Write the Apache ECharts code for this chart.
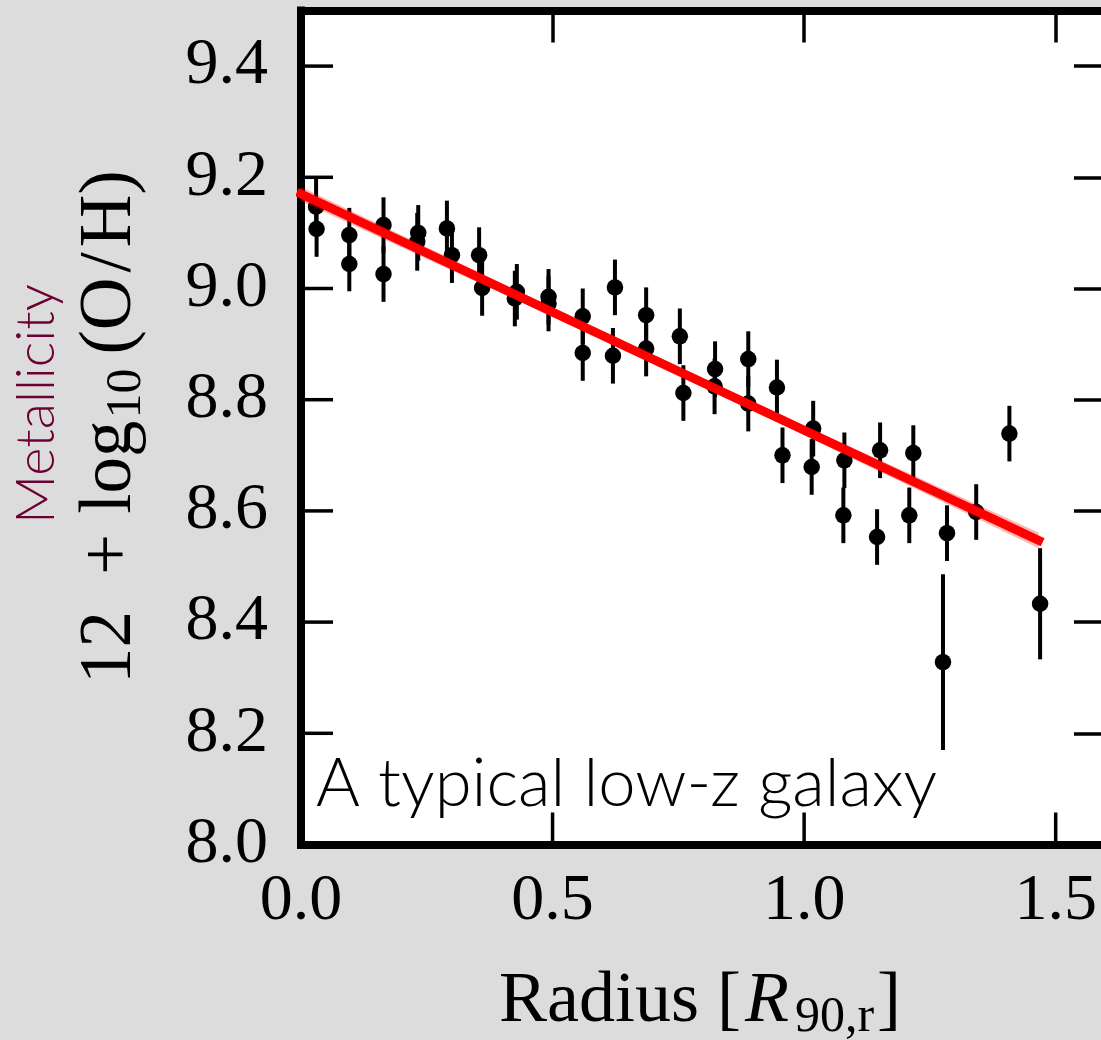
<!DOCTYPE html>
<html><head><meta charset="utf-8">
<script src="https://cdn.jsdelivr.net/npm/echarts@6/dist/echarts.min.js"></script>
<style>html,body{margin:0;padding:0;background:#dcdcdc;}#c{width:1101px;height:1040px;}</style>
</head><body><div id="c"></div>
<script>
// Radius in units of R90,r
const radius = [0.030,0.031,0.096,0.096,0.164,0.164,0.233,0.231,0.290,0.300,0.354,0.360,0.429,0.425,0.492,0.492,0.560,0.560,0.624,0.620,0.686,0.686,0.753,0.760,0.823,0.822,0.889,0.889,0.946,0.957,1.018,1.015,1.080,1.078,1.151,1.145,1.217,1.209,1.284,1.276,1.342,1.408,1.469];
// 12 + log10(O/H)
const metallicity = [9.147,9.107,9.096,9.044,9.114,9.026,9.100,9.084,9.108,9.060,9.060,9.001,8.994,8.982,8.985,8.973,8.950,8.884,9.002,8.879,8.952,8.892,8.914,8.812,8.855,8.824,8.873,8.793,8.822,8.700,8.748,8.679,8.691,8.592,8.709,8.553,8.704,8.592,8.560,8.328,8.598,8.739,8.433];
const errors = [0.05,0.05,0.049,0.049,0.05,0.05,0.05,0.052,0.05,0.05,0.05,0.05,0.05,0.05,0.05,0.05,0.05,0.05,0.05,0.05,0.05,0.05,0.05,0.05,0.05,0.05,0.05,0.05,0.05,0.05,0.05,0.05,0.05,0.05,0.05,0.05,0.05,0.05,0.05,0.158,0.05,0.05,0.10];
// linear fit and its confidence band
const fitX = [0.0, 1.466];
const fitY = [9.170, 8.547];
const bandX = [0.0, 0.74, 1.466];
const bandLow = [9.157, 8.850, 8.533];
const bandHigh = [9.183, 8.861, 8.561];
const xTickLabels = ['0.0','0.5','1.0','1.5'];
const yTickLabels = ['8.0','8.2','8.4','8.6','8.8','9.0','9.2','9.4'];

const SERIF = '"Liberation Serif", "DejaVu Serif", serif';
const X_MIN = 0, X_MAX = 1.6, Y_MIN = 8.0, Y_MAX = 9.5;
const TICK = 32;
const chart = echarts.init(document.getElementById('c'), null, {renderer:'canvas'});

const spine = () => ({show:true, onZero:false, lineStyle:{color:'#000', width:8, cap:'square'}});
const ticks = () => ({show:true, inside:true, length:TICK, lineStyle:{color:'#000', width:3.5}});
function xLab(v){ const i=Math.round(v/0.5); return (Math.abs(v-i*0.5)<1e-6 && i<xTickLabels.length)?xTickLabels[i]:''; }
function yLab(v){ const i=Math.round((v-8)/0.2); return (Math.abs(v-8-i*0.2)<1e-6 && i<yTickLabels.length)?yTickLabels[i]:''; }
const xAx = (pos, extra) => Object.assign({type:'value', min:X_MIN, max:X_MAX, interval:0.5, position:pos, z:1,
  axisLine:spine(), axisTick:ticks(), splitLine:{show:false}, axisLabel:{show:false}}, extra||{});
const yAx = (pos, extra) => Object.assign({type:'value', min:Y_MIN, max:Y_MAX, interval:0.2, position:pos, z:1,
  axisLine:spine(), axisTick:ticks(), splitLine:{show:false}, axisLabel:{show:false}}, extra||{});

const pts = radius.map((r,i)=>[r, metallicity[i], errors[i]]);
const xTickVals = xTickLabels.map(Number);
const yTickVals = yTickLabels.map(Number);

chart.setOption({
  backgroundColor:'#dcdcdc',
  animation:false,
  grid:{left:301, top:10.5, width:805, height:834, show:false, containLabel:false, outerBoundsMode:'none'},
  xAxis:[
    xAx('bottom', {axisTick:{show:false}, axisLabel:{show:true, formatter:xLab, fontFamily:SERIF, fontSize:66, color:'#000', margin:24}}),
    xAx('top')
  ],
  yAxis:[
    yAx('left', {axisTick:{show:false}, axisLabel:{show:true, formatter:yLab, fontFamily:SERIF, fontSize:66, color:'#000', margin:33}}),
    yAx('right')
  ],
  series:[
    {type:'custom', name:'plotarea', xAxisIndex:0, yAxisIndex:0, z:-10, clip:false, silent:true,
     data:[[X_MIN, Y_MAX, X_MAX, Y_MIN]],
     renderItem:function(params, api){
       const a=api.coord([api.value(0), api.value(1)]), b=api.coord([api.value(2), api.value(3)]);
       return {type:'rect', shape:{x:a[0], y:a[1], width:b[0]-a[0], height:b[1]-a[1]}, style:{fill:'#ffffff'}};
     }},
    {type:'custom', name:'ticks', xAxisIndex:0, yAxisIndex:0, z:20, clip:false, silent:true,
     data:[[0.75, 8.75]],
     renderItem:function(params, api){
       const children=[];
       xTickVals.forEach(v=>{ const p=api.coord([v, Y_MIN]);
         children.push({type:'line', shape:{x1:p[0],y1:p[1],x2:p[0],y2:p[1]-TICK}, style:{stroke:'#000', lineWidth:3.5}}); });
       yTickVals.forEach(v=>{ const p=api.coord([X_MIN, v]);
         children.push({type:'line', shape:{x1:p[0],y1:p[1],x2:p[0]+TICK,y2:p[1]}, style:{stroke:'#000', lineWidth:3.5}}); });
       return {type:'group', children:children};
     }},
    {type:'custom', name:'err', xAxisIndex:0, yAxisIndex:0, z:2, data:pts, encode:{x:0,y:1},
     renderItem:function(params, api){
       const x=api.value(0), y=api.value(1), e=api.value(2);
       const p1=api.coord([x,y-e]), p2=api.coord([x,y+e]);
       return {type:'line', shape:{x1:p1[0],y1:p1[1],x2:p2[0],y2:p2[1]}, style:{stroke:'#000', lineWidth:4}};
     }},
    {type:'scatter', xAxisIndex:0, yAxisIndex:0, z:3, symbol:'circle', symbolSize:16.5, itemStyle:{color:'#000', opacity:1},
     data:pts.map(p=>[p[0],p[1]])},
    {type:'custom', name:'band', xAxisIndex:0, yAxisIndex:0, z:4, clip:false, data:[[bandX[0], bandLow[0]]], encode:{x:0,y:1},
     renderItem:function(params, api){
       const poly=[];
       for(let i=0;i<bandX.length;i++) poly.push(api.coord([bandX[i], bandHigh[i]]));
       for(let i=bandX.length-1;i>=0;i--) poly.push(api.coord([bandX[i], bandLow[i]]));
       return {type:'polygon', shape:{points:poly}, style:{fill:'rgba(255,0,0,0.28)'}};
     }},
    {type:'line', z:5, symbol:'none', clip:false, lineStyle:{color:'#ff0000', width:9, cap:'square'},
     data:fitX.map((x,i)=>[x,fitY[i]])}
  ],
  graphic:[
    {type:'text', left:316, top:751, z:10, style:{text:'A typical low-z galaxy', fontFamily:'Lato', fontWeight:300, fontSize:67, fill:'#000'}},
    {type:'text', x:37, y:404, rotation:Math.PI/2, z:10,
     style:{text:'Metallicity', fontFamily:'Lato', fontWeight:300, fontSize:54, fill:'#6b0035', align:'center', verticalAlign:'middle'}},
    {type:'text', x:111, y:427, rotation:Math.PI/2, z:10,
     style:{text:'{n|12}{p|+}{l|log}{s|10}{o|(O}{sl|/}{o|H)}', align:'center', verticalAlign:'middle',
       rich:{
         n:{fontFamily:SERIF, fontSize:73, lineHeight:82, fill:'#000', verticalAlign:'middle'},
         p:{fontFamily:SERIF, fontSize:73, fill:'#000', verticalAlign:'middle', padding:[0,20,0,36]},
         l:{fontFamily:SERIF, fontSize:73, fill:'#000', verticalAlign:'middle'},
         s:{fontFamily:SERIF, fontSize:50, fill:'#000', verticalAlign:'bottom', padding:[0,14,0,2]},
         o:{fontFamily:SERIF, fontSize:73, fill:'#000', verticalAlign:'middle'},
         sl:{fontFamily:SERIF, fontSize:73, fill:'#000', verticalAlign:'middle', padding:[0,5,0,5]}
       }}},
    {type:'text', x:700, y:1002, z:10,
     style:{text:'{n|Radius}{b|[}{i|R}{s|90,r}{n|]}', align:'center', verticalAlign:'middle',
       rich:{
         n:{fontFamily:SERIF, fontSize:72, lineHeight:82, fill:'#000', verticalAlign:'middle'},
         b:{fontFamily:SERIF, fontSize:72, fill:'#000', verticalAlign:'middle', padding:[0,4,0,18]},
         i:{fontFamily:SERIF, fontSize:72, fontStyle:'italic', fill:'#000', verticalAlign:'middle', padding:[0,6,0,0]},
         s:{fontFamily:SERIF, fontSize:50, fill:'#000', verticalAlign:'bottom', padding:[0,3,0,0]}
       }}}
  ]
});
</script></body></html>
